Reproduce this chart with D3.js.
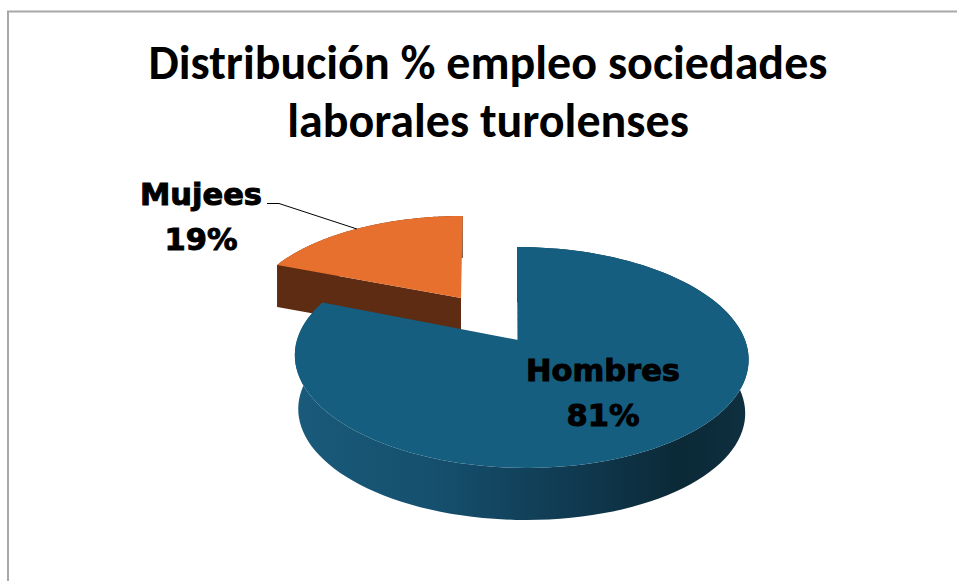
<!DOCTYPE html>
<html>
<head>
<meta charset="utf-8">
<script src="https://cdnjs.cloudflare.com/ajax/libs/d3/7.8.5/d3.min.js"></script>
<style>
  html, body { margin: 0; padding: 0; background: #fff; overflow: hidden; }
  svg { display: block; }
</style>
</head>
<body>
<div class="pie-holder"></div>
<script>
// Chart data
const categories = ['Hombres', 'Mujees'];
const values = [81, 19];
const percent_labels = ['81%', '19%'];
const title_lines = ['Distribución % empleo sociedades', 'laborales turolenses'];

const width = 957;
const height = 581;

const svg = d3.select('.pie-holder').append('svg')
  .attr('width', width)
  .attr('height', height);

// Chart frame, only top and left edges are inside the picture
svg.append('path')
  .attr('d', 'M8,' + height + 'V11.5H' + width)
  .attr('fill', 'none')
  .attr('stroke', '#a8a8a8')
  .attr('stroke-width', 2);

// Title
svg.selectAll('.title-line')
  .data(title_lines)
  .enter().append('text')
  .attr('class', 'title-line')
  .attr('x', 488)
  .attr('y', (d, i) => 79 + i * 57.5)
  .attr('text-anchor', 'middle')
  .style('font-family', 'Carlito, Lato, sans-serif')
  .style('font-weight', 700)
  .style('font-size', '48px')
  .attr('fill', '#000')
  .text(d => d);

// Side wall shading
const defs = svg.append('defs');
const wall_gradient = defs.append('linearGradient')
  .attr('id', 'wall-blue')
  .attr('gradientUnits', 'userSpaceOnUse')
  .attr('x1', 294).attr('x2', 748).attr('y1', 0).attr('y2', 0);
[[0, '#1a5a7a'], [0.3, '#15506e'], [0.6, '#103b52'], [0.85, '#0b2937'], [1, '#0f3040']]
  .forEach(s => wall_gradient.append('stop').attr('offset', s[0]).attr('stop-color', s[1]));

// Pie angles, clockwise from the top
const slices = d3.pie().sort(null)(values);

// How each slice sits on the tilted plane
const perspective = 0.158;
const slice_view = [
  { cx: 521, cy: 340, apex_x: 518, rx: 224, ry: 107.7, depth: 54, low: 0.985, skew: -4.5, top: '#155e80', wall: 'url(#wall-blue)' },
  { cx: 461, cy: 298, apex_x: 461, rx: 210, ry: 95, depth: 42, low: 1, skew: 2, top: '#e8702e', wall: '#5e2c12' }
];

// Rim point of a slice at a given pie angle, with a perspective divide
function rim_point(v, a, drop, scale) {
  const gx = Math.sin(a);
  const gy = Math.cos(a);
  const s = scale / (1 + perspective * gy);
  return [v.cx + (v.rx * gx + v.skew * gy) * s, v.cy - v.ry * gy * s + drop];
}

function rim_points(slice, v, drop, scale) {
  const steps = 120;
  const angle = d3.scaleLinear().domain([0, steps]).range([slice.startAngle, slice.endAngle]);
  return d3.range(steps + 1).map(i => rim_point(v, angle(i), drop, scale));
}

const line = d3.line();

// Mujees is drawn first, Hombres sits in front of it
[1, 0].forEach(i => {
  const slice = slices[i];
  const v = slice_view[i];
  const rim = rim_points(slice, v, 0, 1);
  const rim_low = rim_points(slice, v, v.depth, v.low);
  const apex = [v.apex_x, v.cy];
  const apex_low = [v.apex_x, v.cy + v.depth];

  // outer wall and the cut wall at the start of the slice
  const wall = svg.append('g');
  wall.append('path')
    .attr('d', line(rim.concat(rim_low.slice().reverse())) + 'Z')
    .attr('fill', v.wall);
  wall.append('path')
    .attr('d', line([apex, rim[0], rim_low[0], apex_low]) + 'Z')
    .attr('fill', v.wall);

  // top surface
  svg.append('path')
    .attr('d', line([apex].concat(rim)) + 'Z')
    .attr('fill', v.top);
});

// Leader line for the small slice
svg.append('path')
  .attr('d', line([[267, 203.5], [279, 203.5], [357, 229]]))
  .attr('fill', 'none')
  .attr('stroke', '#000')
  .attr('stroke-width', 1);

// Data labels
const label_pos = [[603, 381], [201, 205]];
const label_group = svg.selectAll('.slice-label')
  .data(categories)
  .enter().append('text')
  .attr('class', 'slice-label')
  .attr('text-anchor', 'middle')
  .style('font-family', '"DejaVu Sans", sans-serif')
  .style('font-weight', 700)
  .style('font-size', '30.5px')
  .attr('fill', '#000')
  .attr('stroke', '#000')
  .attr('stroke-width', 1);

label_group.append('tspan')
  .attr('x', (d, i) => label_pos[i][0])
  .attr('y', (d, i) => label_pos[i][1])
  .text(d => d);

label_group.append('tspan')
  .attr('x', (d, i) => label_pos[i][0])
  .attr('y', (d, i) => label_pos[i][1] + 45)
  .text((d, i) => percent_labels[i]);
</script>
</body>
</html>
